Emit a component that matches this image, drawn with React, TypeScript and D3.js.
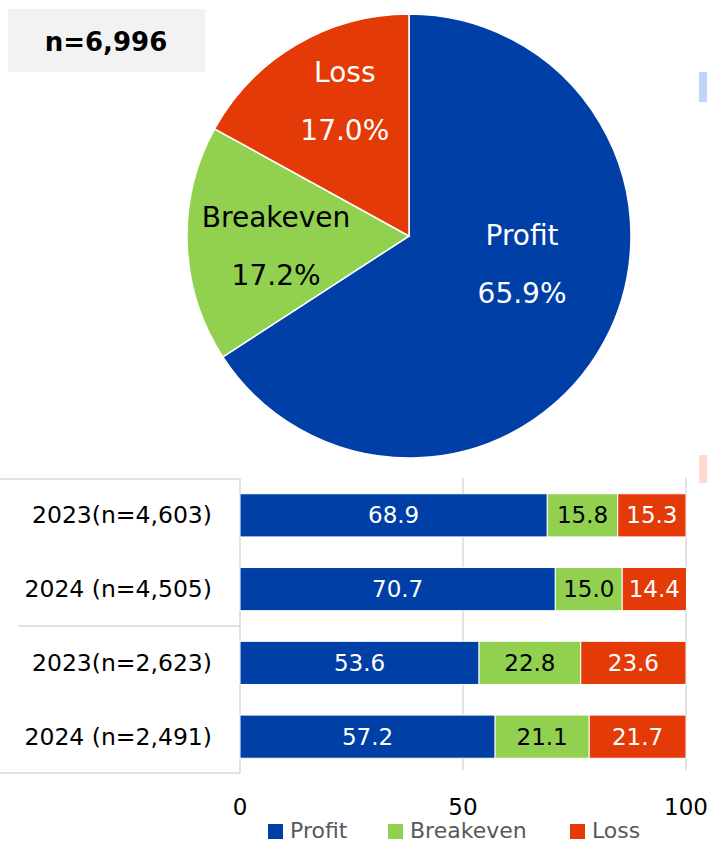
import React from 'react';
import * as d3 from 'd3';

// pie: all respondents
const pieNames = ['Profit', 'Breakeven', 'Loss'];
const pieValues = [65.9, 17.2, 17.0];
const pieTotal = 'n=6,996';

// stacked bars
const barCategories = ['2023(n=4,603)', '2024 (n=4,505)', '2023(n=2,623)', '2024 (n=2,491)'];
const profitValues = [68.9, 70.7, 53.6, 57.2];
const breakevenValues = [15.8, 15.0, 22.8, 21.1];
const lossValues = [15.3, 14.4, 23.6, 21.7];
const xTicks = [0, 50, 100];

const W = 707;
const H = 842;
const FONT = '"DejaVu Sans", Verdana, sans-serif';

const colors: Record<string, string> = {
    Profit: '#003FA6',
    Breakeven: '#92D050',
    Loss: '#E33A07',
};
const labelColors: Record<string, string> = {
    Profit: '#ffffff',
    Breakeven: '#000000',
    Loss: '#ffffff',
};

// nudges for the pie labels (excel places them a bit off the centroid)
const pieLabelNudge: Record<string, [number, number]> = {
    Profit: [-10, -38],
    Breakeven: [7, 5],
    Loss: [7, -14],
};

const cx = 409;
const cy = 236;
const radius = 222;

const x = d3.scaleLinear().domain([0, 100]).range([240, 686]);
const y = d3.scaleBand<string>()
    .domain(barCategories)
    .range([479, 773])
    .paddingInner(0.415)
    .paddingOuter(0.2);

export default function App() {
    const pie = d3.pie<number>().sort(null).value(d => d);
    const arcs = pie(pieValues);
    const arc = d3.arc<d3.PieArcDatum<number>>().innerRadius(0).outerRadius(radius);
    const labelArc = d3.arc<d3.PieArcDatum<number>>().innerRadius(140).outerRadius(140);

    const rows = barCategories.map((c, i) => {
        const vals = [profitValues[i], breakevenValues[i], lossValues[i]];
        let acc = 0;
        return vals.map((v, j) => {
            const seg = { cat: c, key: pieNames[j], x0: acc, x1: acc + v, v };
            acc += v;
            return seg;
        });
    });

    const bh = y.bandwidth();
    const divY = (y(barCategories[1])! + bh + y(barCategories[2])!) / 2;

    const legendItems = [
        { key: 'Profit', x: 268 },
        { key: 'Breakeven', x: 388 },
        { key: 'Loss', x: 570 },
    ];

    return (
        <svg width={W} height={H} style={{ position: 'absolute', left: 0, top: 0, background: '#fff' }} fontFamily={FONT}>
            {/* n box */}
            <rect x={8} y={9} width={197} height={63} fill="#f2f2f2" />
            <text x={106} y={42} textAnchor="middle" dominantBaseline="central" fontSize={26} fontWeight="bold" fill="#000">
                {pieTotal}
            </text>

            {/* side markers */}
            <rect x={699} y={72} width={8} height={30} fill="#bfd4fb" />
            <rect x={699} y={455} width={8} height={28} fill="#fdd9cf" />

            {/* pie */}
            <g transform={`translate(${cx},${cy})`}>
                {arcs.map((a, i) => (
                    <path key={i} d={arc(a)!} fill={colors[pieNames[i]]} stroke="#fff" strokeWidth={1.5} />
                ))}
                {arcs.map((a, i) => {
                    const [lx, ly] = labelArc.centroid(a);
                    const nm = pieNames[i];
                    const [nx, ny] = pieLabelNudge[nm];
                    return (
                        <g key={'l' + i} transform={`translate(${lx + nx},${ly + ny})`} fill={labelColors[nm]} fontSize={28}>
                            <text y={-29} textAnchor="middle" dominantBaseline="central">{nm}</text>
                            <text y={29} textAnchor="middle" dominantBaseline="central">{pieValues[i].toFixed(1)}%</text>
                        </g>
                    );
                })}
            </g>

            {/* grid */}
            {xTicks.filter(t => t > 0).map(t => (
                <line key={t} x1={x(t)} x2={x(t)} y1={478} y2={770} stroke="#d9d9d9" strokeWidth={1.5} />
            ))}

            {/* category box */}
            <rect x={-2} y={479} width={242} height={294} fill="none" stroke="#d9d9d9" strokeWidth={1.5} />
            <line x1={18} x2={240} y1={divY} y2={divY} stroke="#d9d9d9" strokeWidth={1.5} />
            {barCategories.map(c => (
                <text key={c} x={212} y={y(c)! + bh / 2} textAnchor="end" dominantBaseline="central" fontSize={23.5} fill="#000">
                    {c}
                </text>
            ))}

            {/* bars */}
            {rows.map((segs, i) => (
                <g key={i}>
                    {segs.map(s => (
                        <g key={s.key}>
                            <rect x={x(s.x0)} y={y(s.cat)} width={x(s.x1) - x(s.x0)} height={bh} fill={colors[s.key]} stroke="#fff" strokeWidth={1} />
                            <text x={(x(s.x0) + x(s.x1)) / 2} y={y(s.cat)! + bh / 2} textAnchor="middle" dominantBaseline="central" fontSize={23} fill={labelColors[s.key]}>
                                {s.v.toFixed(1)}
                            </text>
                        </g>
                    ))}
                </g>
            ))}

            {/* x axis labels */}
            {xTicks.map(t => (
                <text key={t} x={x(t)} y={807} textAnchor="middle" dominantBaseline="central" fontSize={23} fill="#000">
                    {t}
                </text>
            ))}

            {/* legend */}
            {legendItems.map(l => (
                <g key={l.key}>
                    <rect x={l.x} y={824} width={15} height={15} fill={colors[l.key]} />
                    <text x={l.x + 22} y={830} dominantBaseline="central" fontSize={22} fill="#595959">{l.key}</text>
                </g>
            ))}
        </svg>
    );
}
